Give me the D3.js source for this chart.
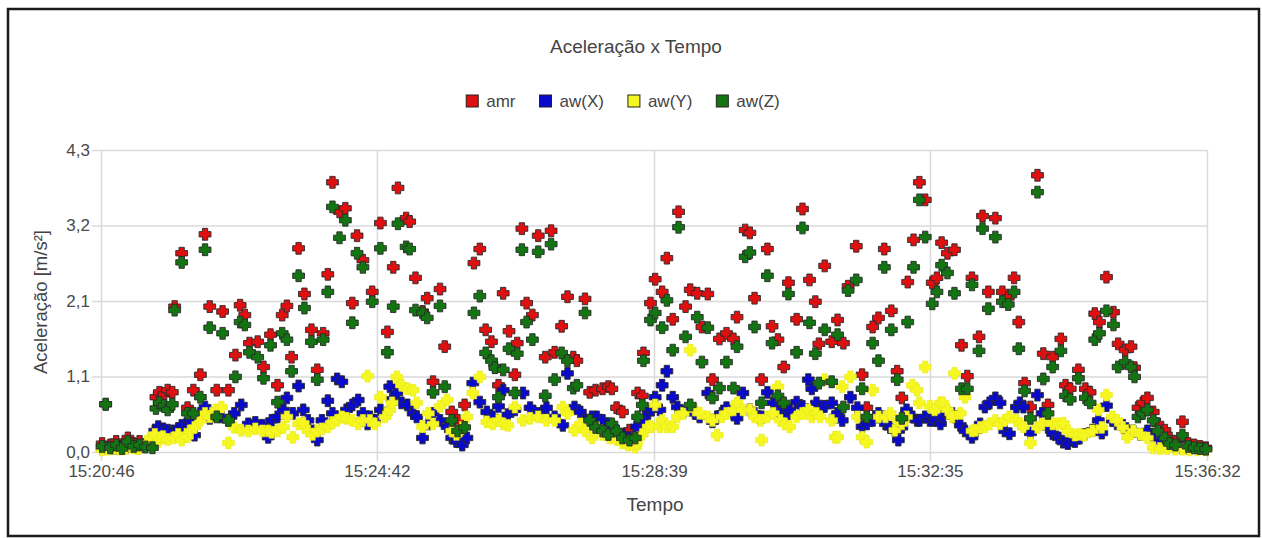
<!DOCTYPE html>
<html>
<head>
<meta charset="utf-8">
<script src="https://cdn.jsdelivr.net/npm/d3@7/dist/d3.min.js"></script>
<style>
    body { margin: 0; background: #fff; }
    text { font-family: "Liberation Sans", Arial, sans-serif; fill: #4a4a4a; }
    .grid line { stroke: #dadada; stroke-width: 1.5px; }
    .grid path { display: none; }
</style>
</head>
<body>
<script>

    var seriesNames = ["amr", "aw(X)", "aw(Y)", "aw(Z)"];
    var seriesColors = ["#e01010", "#0a0acc", "#f6f620", "#127512"];

    var xTickLabels = ["15:20:46", "15:24:42", "15:28:39", "15:32:35", "15:36:32"];
    var yTickValues = [0, 1.075, 2.15, 3.225, 4.3];
    var yTickLabels = ["0,0", "1,1", "2,1", "3,2", "4,3"];

    // seconds after 15:20:46 (samples of amr and aw(Z))
    var tempoRZ = [1,4,8,13,18,23,28,33,38,44,
        47,50,54,57,61,63,69,74,79,85,
        89,93,99,104,109,115,119,123,127,134,
        139,145,151,155,159,163,169,174,180,185,
        190,194,198,204,209,215,219,224,232,239,
        245,250,254,261,264,269,275,279,284,290,
        294,300,305,311,319,324,329,334,337,340,
        344,349,354,356,360,364,369,374,380,385,
        388,394,399,404,407,414,418,423,429,434,
        437,441,446,452,457,459,463,464,470,474,
        480,484,489,494,500,504,510,514,519,523,
        529,535,541,544,551,555,559,565,570,574,
        579,584,588,595,600,606,611,614,619,625,
        630,635,639,646,651,655,660,665,670,676,
        681,685,690,695,700,705,711,715,719,724,
        730,736,741,745,751,754,759,765,771,776,
        781,785,790,795,801,806,810,814,821,825,
        829,836,842,846,850,854,860,866,870,876,
        881,884,887,891,895,900,904,910,914,919,
        925,930,935,940,945];

    var amr = [.12,.68,.1,.15,.08,.2,.12,.15,.1,.12,
        .78,.85,.82,.88,.85,2.07,2.83,.63,.88,1.1,
        3.1,2.07,.88,2.0,.88,1.38,2.09,1.95,1.55,1.57,
        1.21,1.67,.95,1.95,2.08,1.35,2.9,2.25,1.74,1.17,
        1.69,2.53,3.84,3.42,3.47,2.12,3.08,2.73,2.28,3.26,
        1.71,2.63,3.76,3.33,3.28,2.48,2.0,2.19,1.0,2.32,
        1.5,.57,.45,.67,2.69,2.89,1.74,1.57,1.21,.95,
        2.26,1.72,1.1,1.55,3.18,2.12,1.95,3.08,1.35,3.15,
        1.42,1.79,2.21,1.35,1.3,2.18,.85,.88,.9,.93,
        .9,.63,.57,.31,.25,.84,.8,1.41,2.12,2.46,
        2.28,2.76,1.89,3.42,2.07,2.31,2.26,1.78,2.25,1.03,
        1.61,1.69,1.61,1.92,3.16,3.12,2.19,1.03,2.89,1.79,
        1.6,1.21,2.41,1.89,3.46,2.45,2.14,1.54,2.65,1.57,
        1.88,1.55,2.36,2.93,1.1,.63,1.78,1.91,2.89,2.01,
        1.15,.77,2.42,3.02,3.84,3.59,2.41,2.48,2.98,2.83,
        2.88,1.52,1.08,2.48,1.64,3.36,2.28,3.33,2.28,2.2,
        2.48,1.85,.98,.64,3.94,1.4,.67,1.35,1.61,.95,
        .9,1.17,.9,.85,1.97,1.85,2.49,1.99,1.54,1.45,
        1.5,1.2,.63,.7,.77,.57,.4,.31,.2,.15,
        .43,.12,.1,.08,.06];

    var awZ = [.08,.68,.06,.1,.05,.15,.08,.1,.07,.06,
        .62,.7,.66,.6,.68,2.02,2.7,.55,.55,.78,
        2.88,1.77,.5,1.69,.45,1.07,1.85,1.81,1.42,1.35,
        1.05,1.52,.71,1.69,1.6,1.15,2.51,2.05,1.57,1.03,
        1.6,2.28,3.49,3.05,3.3,1.84,2.83,2.63,2.14,2.9,
        1.42,2.07,3.25,2.92,2.89,2.02,1.98,1.91,.85,2.08,
        .93,.45,.3,.35,1.98,2.22,1.41,1.3,1.2,.78,
        1.17,1.47,.84,1.4,2.88,1.85,1.6,2.85,.8,2.96,
        1.03,1.41,1.3,.91,.95,1.98,.45,.35,.3,.25,
        .4,.3,.2,.17,.2,.5,.67,1.3,1.88,1.98,
        1.77,2.16,1.45,3.2,1.64,.67,1.92,1.28,1.77,.77,
        .91,1.28,.91,1.5,2.78,2.84,1.78,.7,2.51,1.55,
        .8,.7,2.25,1.42,3.19,1.84,1.4,.98,1.74,1.0,
        1.67,.64,2.3,2.45,.9,.5,1.55,1.3,2.63,1.74,
        1.03,.48,1.85,2.63,3.59,3.06,2.11,2.28,2.66,2.55,
        2.26,.9,.9,2.38,1.44,3.18,2.04,3.06,2.14,2.1,
        2.28,1.47,.87,.48,3.7,1.04,.55,1.21,1.44,.8,
        .75,1.05,.77,.7,1.6,1.69,2.01,1.81,1.21,1.28,
        1.21,1.07,.5,.55,.6,.45,.3,.2,.12,.1,
        .24,.08,.06,.05,.04];

    // seconds after 15:20:46 (samples of aw(X) and aw(Y))
    var tempoXY = [1,6,11,16,21,27,32,37,42,46,
        49,53,57,62,66,69,74,76,80,85,
        89,93,98,103,109,114,120,126,132,138,
        143,146,151,156,159,164,169,173,177,181,
        185,189,194,198,202,206,210,215,220,224,
        228,230,234,239,243,247,249,253,257,262,
        267,270,275,280,284,290,296,300,304,309,
        313,318,324,330,335,340,344,348,354,361,
        367,374,381,388,395,399,405,410,414,420,
        424,429,435,441,446,451,457,458,463,468,
        471,474,478,480,484,489,493,498,504,508,
        512,519,523,527,531,535,541,544,549,555,
        559,564,565,570,575,579,581,585,589,595,
        600,605,608,612,615,619,625,628,630,634,
        641,647,651,655,660,665,671,675,679,682,
        685,689,694,698,700,705,709,713,718,720,
        724,728,730,735,739,745,748,752,756,760,
        765,769,773,777,783,786,789,795,801,805,
        810,814,819,823,827,833,837,841,848,853,
        856,860,865,869,874,878,883,889,895,900,
        906,912,919,925,931,938,945];

    var awX = [.05,.06,.05,.07,.06,.08,.06,.1,.15,.3,
        .36,.33,.31,.3,.33,.38,.4,.45,.24,.55,
        .64,.48,.55,.5,.45,.55,.67,.4,.42,.38,
        .21,.45,.5,.6,.77,.55,.94,.6,.45,.3,
        .17,.45,.73,.55,1.04,1.0,.6,.67,.74,.55,
        .4,.5,.45,.6,.55,.93,.75,.84,.7,.67,
        .55,.5,.2,.4,.55,.45,.36,.2,.15,.1,
        .2,.98,.71,.57,.5,.65,.88,.53,.6,.84,
        .63,.55,.63,.5,.38,1.12,.64,.57,.45,.5,
        .5,.45,.4,.3,.25,.2,.15,.36,.45,.55,
        .6,.78,.6,.95,1.15,.78,.64,.57,.6,.55,
        .5,.84,.43,.5,.55,.63,.55,.48,.84,.6,
        .55,.48,.5,.85,.7,.6,.55,.5,.6,.71,
        .65,1.03,.9,.7,.6,.65,.7,.5,.55,.45,
        .78,.63,.36,.4,.45,.55,.4,.35,.3,.17,
        .35,.6,.5,.45,.45,.5,.45,.45,.4,.5,
        .55,.55,.5,.38,.3,.21,.3,.4,.64,.7,
        .77,.7,.3,.26,.64,.7,.64,.27,.81,.55,
        .35,.26,.2,.14,.12,.15,.2,.25,.31,.45,
        .27,.66,.45,.4,.38,.3,.3,.25,.3,.24,
        .15,.1,.08,.06,.05,.05,.04];

    var awY = [.03,.04,.05,.04,.05,.06,.05,.08,.2,.25,
        .15,.22,.18,.2,.25,.17,.22,.3,.35,.45,
        .55,.5,.6,.64,.13,.35,.31,.3,.33,.3,
        .3,.28,.3,.35,.5,.21,.4,.41,.3,.25,
        .3,.33,.36,.42,.45,.5,.48,.45,.4,.45,
        1.08,.45,.4,.78,.5,.6,.7,1.07,.95,.9,
        .88,.7,.36,.55,.4,.65,.74,.3,.25,.35,
        .5,.84,1.07,.43,.4,.45,.4,.38,.64,.45,
        .48,.5,.45,.45,.64,.55,.31,.4,.3,.2,
        .35,.25,.2,.18,.13,.1,.07,.12,.25,.36,
        .36,.67,.36,.45,.36,.36,.5,.55,1.45,.6,
        .55,.5,.45,.24,.5,.55,.6,.7,.6,.6,
        .5,.45,.17,.5,.55,.93,.45,.4,.36,.5,
        .55,.6,.5,.55,.5,1.03,.45,.21,.21,.93,
        1.07,.5,.21,.14,.88,.5,.5,.55,.31,.45,
        .4,.5,.95,.88,.7,1.21,.65,.6,.7,.7,
        .6,.5,1.12,.55,.78,.3,.31,.35,.36,.4,
        .45,.4,.45,.5,.45,.4,.36,.13,.35,.4,
        .45,.4,.4,.41,.3,.24,.25,.24,.3,.6,
        .35,.81,.5,.45,.35,.21,.3,.25,.2,.06,
        .05,.05,.04,.04,.03,.03,.03];


    var W = 1262, H = 538;
    var plotL = 101, plotR = 1207, plotT = 150, plotB = 452;

    var svg = d3.select("body").append("svg")
        .attr("width", W)
        .attr("height", H);

    // outer frame
    svg.append("rect")
        .attr("x", 8).attr("y", 9)
        .attr("width", 1251).attr("height", 527)
        .style("fill", "none")
        .style("stroke", "#1a1a1a")
        .style("stroke-width", 2.5);

    var parseTime = d3.timeParse("%H:%M:%S");
    var t0 = parseTime(xTickLabels[0]);
    var t1 = parseTime(xTickLabels[xTickLabels.length - 1]);
    function toDate(s) { return new Date(t0.getTime() + s * 1000); }

    var x = d3.scaleTime().domain([t0, t1]).range([plotL, plotR]);
    var y = d3.scaleLinear().domain([0, 4.3]).range([plotB, plotT]);

    // horizontal grid + y labels
    var yAxis = d3.axisLeft(y)
        .tickValues(yTickValues)
        .tickSizeInner(-(plotR - plotL + 9))
        .tickSizeOuter(0)
        .tickPadding(2)
        .tickFormat(function(d, i) { return yTickLabels[i]; });

    svg.append("g")
        .attr("class", "grid")
        .attr("transform", "translate(" + (plotL - 9) + ",0)")
        .call(yAxis)
        .selectAll("text")
        .style("font-size", "17px")
        .style("fill", "#4a4a4a");

    // vertical grid + x labels
    var xAxis = d3.axisBottom(x)
        .tickValues(xTickLabels.map(parseTime))
        .tickSizeInner(-(plotB - plotT + 9))
        .tickSizeOuter(0)
        .tickPadding(4)
        .tickFormat(d3.timeFormat("%H:%M:%S"));

    svg.append("g")
        .attr("class", "grid")
        .attr("transform", "translate(0," + (plotB + 9) + ")")
        .call(xAxis)
        .selectAll("text")
        .style("font-size", "17px")
        .style("fill", "#4a4a4a");

    // fat plus marker
    var fatCross = {
        draw: function(ctx, size) {
            var r = Math.sqrt(size) / 2, a = r * 0.45;
            ctx.moveTo(-r, -a); ctx.lineTo(-a, -a); ctx.lineTo(-a, -r);
            ctx.lineTo(a, -r); ctx.lineTo(a, -a); ctx.lineTo(r, -a);
            ctx.lineTo(r, a); ctx.lineTo(a, a); ctx.lineTo(a, r);
            ctx.lineTo(-a, r); ctx.lineTo(-a, a); ctx.lineTo(-r, a);
            ctx.closePath();
        }
    };

    var series = [
        { t: tempoRZ, v: amr },
        { t: tempoXY, v: awX },
        { t: tempoXY, v: awY },
        { t: tempoRZ, v: awZ }
    ];

    var sym = d3.symbol().type(fatCross).size(140);

    series.forEach(function(s, k) {
        var pts = s.t.map(function(d, i) { return [d, s.v[i]]; })
            .filter(function(p) { return p[1] != null; });
        svg.append("g").selectAll("path")
            .data(pts)
            .enter().append("path")
            .attr("d", sym)
            .attr("transform", function(p) {
                return "translate(" + x(toDate(p[0])) + "," + y(p[1]) + ")";
            })
            .style("fill", seriesColors[k])
            .style("stroke", k == 2 ? "#e8e81a" : "#2a2a2a")
            .style("stroke-width", k == 2 ? 0.6 : 0.9)
            .style("stroke-linejoin", "round");
    });

    // title
    svg.append("text")
        .attr("x", 636).attr("y", 53)
        .style("text-anchor", "middle")
        .style("font-size", "19px")
        .style("fill", "#444")
        .text("Aceleração x Tempo");

    // legend
    var leg = svg.append("g");
    var lx = 0;
    seriesNames.forEach(function(name, k) {
        var item = leg.append("g").attr("transform", "translate(" + lx + ",0)");
        item.append("rect")
            .attr("x", 0).attr("y", 95)
            .attr("width", 12).attr("height", 12)
            .style("fill", seriesColors[k])
            .style("stroke", "#222")
            .style("stroke-width", 1);
        var tx = item.append("text")
            .attr("x", 20).attr("y", 107)
            .style("font-size", "17px")
            .style("fill", "#444")
            .text(name);
        lx += 20 + tx.node().getComputedTextLength() + 24;
    });
    var legW = lx - 24;
    leg.attr("transform", "translate(" + (623 - legW / 2) + ",0)");

    // axis titles
    svg.append("text")
        .attr("x", 655).attr("y", 511)
        .style("text-anchor", "middle")
        .style("font-size", "19px")
        .style("fill", "#444")
        .text("Tempo");

    svg.append("text")
        .attr("transform", "translate(47,302) rotate(-90)")
        .style("text-anchor", "middle")
        .style("font-size", "18.5px")
        .style("fill", "#444")
        .text("Aceleração [m/s²]");

</script>
</body>
</html>
